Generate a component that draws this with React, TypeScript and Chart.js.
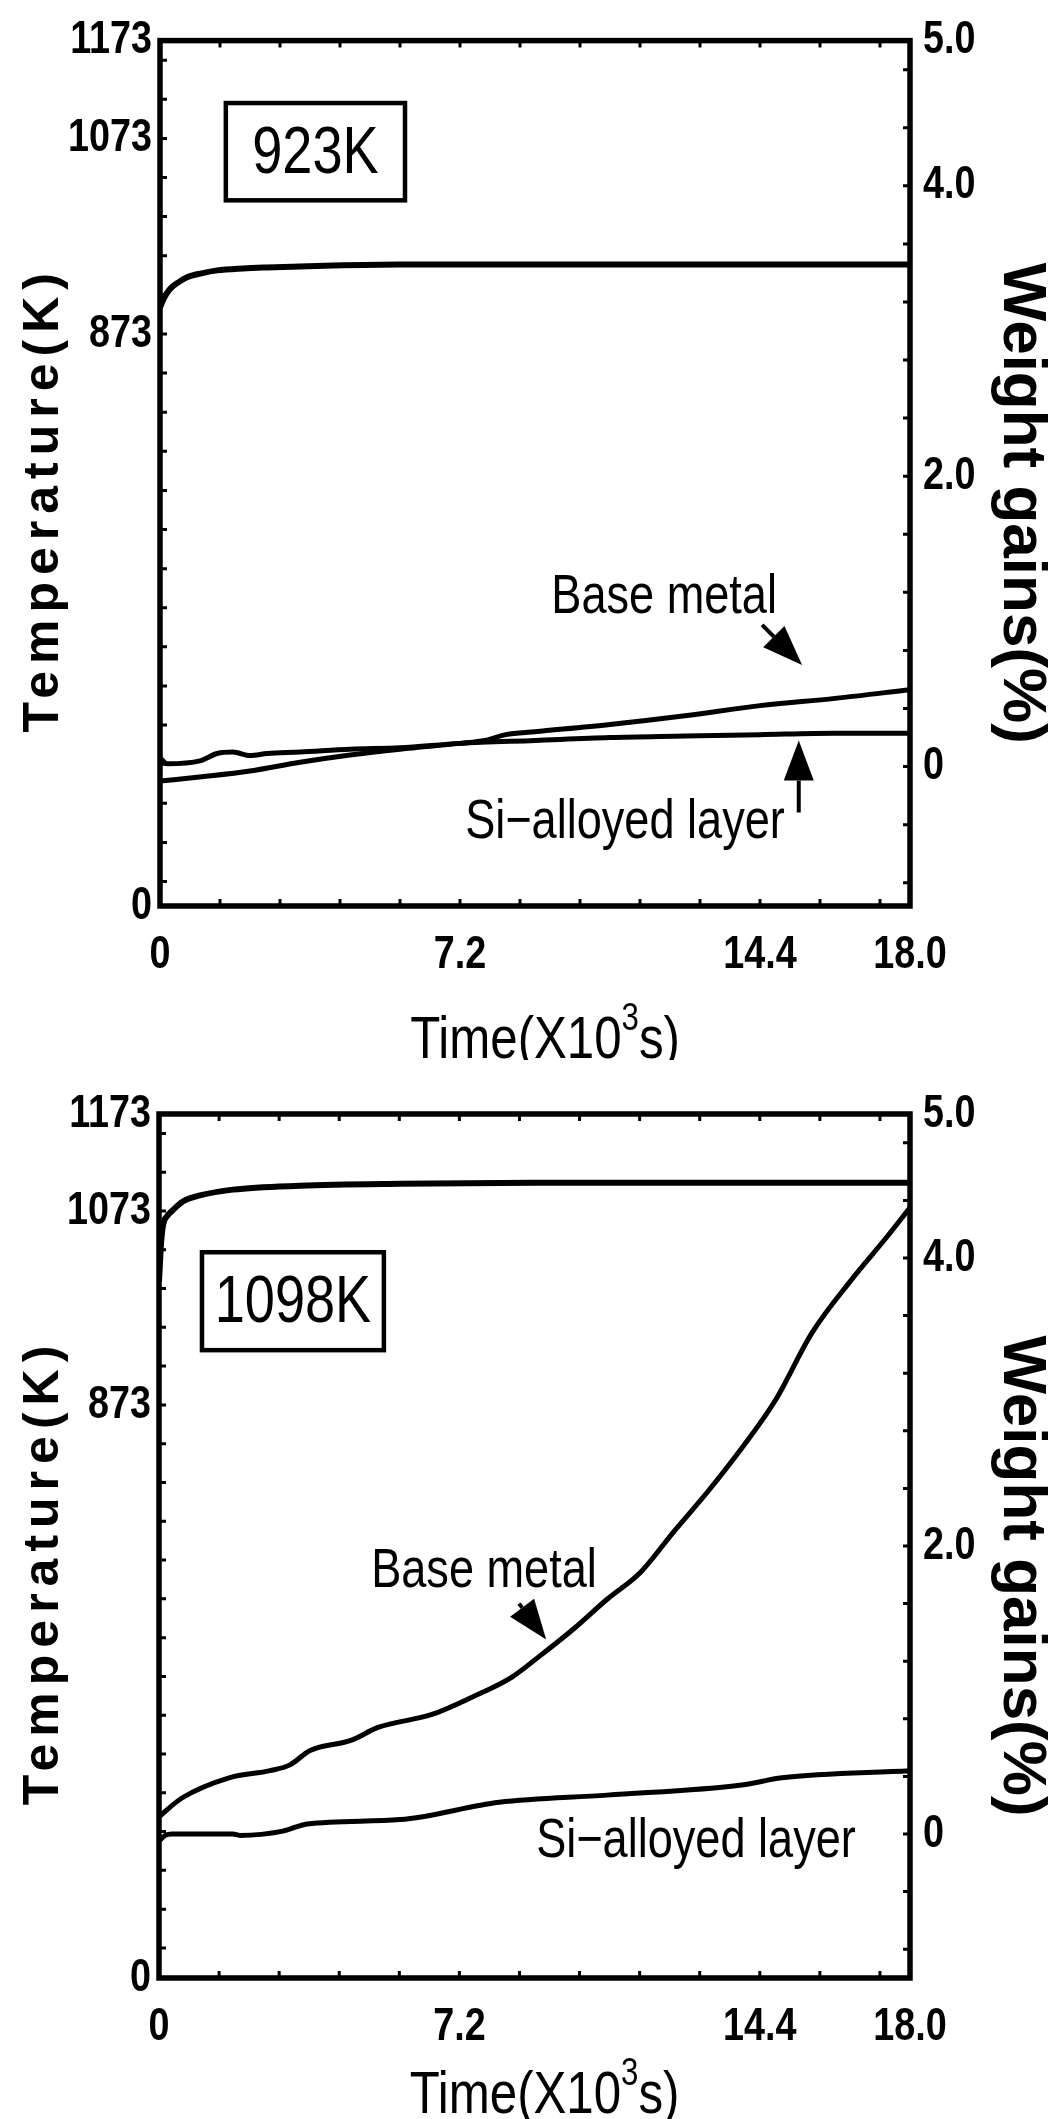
import React, { useEffect, useRef } from 'react';
import { Chart, registerables } from 'chart.js';

Chart.register(...registerables);

// ---------- axis ticks ----------
const TIME_TICKS = [0, 7.2, 14.4, 18];
const TIME_TICK_LABELS = ['0', '7.2', '14.4', '18.0'];
const TIME_MINOR_STEP = 1.44;
const TEMP_TICKS = [873, 1073, 1173];
const TEMP_TICK_LABELS = ['873', '1073', '1173'];
const TEMP_BREAK_LABEL = '0';
const TEMP_MINOR_STEP = 40;
const GAIN_TICKS = [0, 2, 4, 5];
const GAIN_TICK_LABELS = ['0', '2.0', '4.0', '5.0'];
const GAIN_MINOR_STEP = 0.4;

// ---------- panel 1 : 923K ----------
const T1_TIME = [0, 0.1, 0.24, 0.45, 0.65, 1.0, 1.37, 2.0, 2.57, 4.15, 5.76, 9.0, 12.6, 16.0, 18.0];
const T1_TEMP = [900, 910, 919, 926, 931, 935, 938, 940, 941, 943, 944, 944, 944, 944, 944];
const BM1_TIME = [0, 1.0, 2.16, 3.36, 4.56, 5.76, 7.2, 7.8, 8.3, 9.0, 10.8, 12.6, 14.4, 16.2, 18];
const BM1_GAIN = [-0.1, -0.07, -0.03, 0.03, 0.08, 0.12, 0.16, 0.18, 0.22, 0.24, 0.29, 0.35, 0.42, 0.47, 0.53];
const SI1_TIME = [0, 0.17, 0.96, 1.37, 1.75, 2.16, 2.57, 3.36, 4.56, 5.76, 7.2, 9.0, 10.8, 12.6, 14.4, 16.2, 18];
const SI1_GAIN = [0.06, 0.02, 0.04, 0.09, 0.1, 0.076, 0.09, 0.1, 0.12, 0.13, 0.16, 0.18, 0.2, 0.21, 0.22, 0.23, 0.23];

// ---------- panel 2 : 1098K ----------
const T2_TIME = [0, 0.05, 0.1, 0.2, 0.31, 0.58, 0.98, 1.77, 3.38, 5.78, 9, 14, 18];
const T2_TEMP = [1000, 1040, 1059, 1068, 1073, 1083, 1089, 1095, 1099, 1101, 1102, 1102, 1102];
const BM2_TIME = [0, 0.55, 1.68, 2.66, 3.14, 3.62, 4.6, 5.25, 6.54, 7.5, 8.46, 9.1, 9.92, 10.74, 11.55, 12.34, 13.16, 13.97, 14.77, 15.65, 16.6, 17.4, 18];
const BM2_GAIN = [0.12, 0.25, 0.39, 0.44, 0.48, 0.58, 0.65, 0.74, 0.83, 0.95, 1.09, 1.23, 1.42, 1.63, 1.82, 2.1, 2.38, 2.68, 3.01, 3.48, 3.85, 4.13, 4.35];
const SI2_TIME = [0, 0.15, 0.31, 1.77, 1.94, 2.97, 3.55, 5.78, 8.15, 10.74, 13.97, 14.93, 18];
const SI2_GAIN = [-0.05, -0.01, 0.0, 0.0, -0.01, 0.02, 0.07, 0.1, 0.22, 0.27, 0.34, 0.39, 0.44];

const W = 1052;
const SANS = '"Liberation Sans", Arial, sans-serif';
const CONDENSE = 0.82;

type Panel = {
  height: number; top: number; left: number; right: number; bottom: number;
  tempMin: number; gainMin: number; timeTitleY: number;
  temp: [number[], number[]]; base: [number[], number[]]; si: [number[], number[]];
  box: { t0: number; t1: number; w0: number; w1: number; text: string };
  labels: { text: string; t: number; w: number }[];
  arrows: { from: [number, number]; to: [number, number] }[];
};

const PANELS: Panel[] = [
  {
    height: 1060, top: 39, left: 160, right: 910, bottom: 906,
    tempMin: 288, gainMin: -0.96, timeTitleY: 1058,
    temp: [T1_TIME, T1_TEMP], base: [BM1_TIME, BM1_GAIN], si: [SI1_TIME, SI1_GAIN],
    box: { t0: 1.58, t1: 5.88, w0: 4.57, w1: 3.9, text: '923K' },
    labels: [
      { text: 'Base metal', t: 12.1, w: 1.16 },
      { text: 'Si\u2212alloyed layer', t: 11.16, w: -0.39 },
    ],
    arrows: [
      { from: [14.45, 0.976], to: [15.41, 0.7] },
      { from: [15.33, -0.316], to: [15.33, 0.179] },
    ],
  },
  {
    height: 1059, top: 54, left: 159, right: 910, bottom: 918,
    tempMin: 282, gainMin: -1.0, timeTitleY: 1053,
    temp: [T2_TIME, T2_TEMP], base: [BM2_TIME, BM2_GAIN], si: [SI2_TIME, SI2_GAIN],
    box: { t0: 1.03, t1: 5.39, w0: 4.04, w1: 3.36, text: '1098K' },
    labels: [
      { text: 'Base metal', t: 7.79, w: 1.82 },
      { text: 'Si\u2212alloyed layer', t: 12.87, w: -0.056 },
    ],
    arrows: [{ from: [8.63, 1.6], to: [9.28, 1.35] }],
  },
];

function pts(xs: number[], ys: number[]) {
  return xs.map((x, i) => ({ x, y: ys[i] }));
}

// draws text squeezed horizontally (condensed typeface look)
function narrowText(ctx: CanvasRenderingContext2D, text: string, x: number, y: number, sx = CONDENSE) {
  ctx.save();
  ctx.translate(x, y);
  ctx.scale(sx, 1);
  ctx.fillText(text, 0, 0);
  ctx.restore();
}

// Chart.js axis labels are drawn condensed too
const condensePlugin = {
  id: 'condense',
  beforeDraw(chart: any) {
    const ctx = chart.ctx as any;
    const orig = CanvasRenderingContext2D.prototype.fillText;
    ctx.fillText = function (text: string, x: number, y: number) {
      this.save();
      this.translate(x, y);
      this.scale(CONDENSE, 1);
      orig.call(this, text, 0, 0);
      this.restore();
    };
  },
  beforeDatasetsDraw(chart: any) {
    delete (chart.ctx as any).fillText;
  },
  afterDraw(chart: any) {
    delete (chart.ctx as any).fillText;
  },
};

function makeOverlay(p: Panel) {
  return {
    id: 'overlay',
    afterDraw(chart: any) {
      const { ctx, chartArea: a, scales } = chart;
      const x = scales.x, yT = scales.yT, yW = scales.yW;
      ctx.save();
      ctx.strokeStyle = '#000';
      ctx.fillStyle = '#000';
      // minor ticks (inward)
      ctx.lineWidth = 3;
      ctx.beginPath();
      for (let v = 0; v <= 18 + 1e-9; v += TIME_MINOR_STEP) {
        const px = x.getPixelForValue(v);
        ctx.moveTo(px, a.bottom); ctx.lineTo(px, a.bottom - 7);
        ctx.moveTo(px, a.top); ctx.lineTo(px, a.top + 7);
      }
      for (let v = 873; v < 1173; v += TEMP_MINOR_STEP) {
        const py = yT.getPixelForValue(v);
        ctx.moveTo(a.left, py); ctx.lineTo(a.left + 7, py);
      }
      for (let v = 873 - TEMP_MINOR_STEP; v > p.tempMin; v -= TEMP_MINOR_STEP) {
        const py = yT.getPixelForValue(v);
        ctx.moveTo(a.left, py); ctx.lineTo(a.left + 7, py);
      }
      for (let v = -0.8; v < 5; v += GAIN_MINOR_STEP) {
        const py = yW.getPixelForValue(v);
        ctx.moveTo(a.right, py); ctx.lineTo(a.right - 7, py);
      }
      ctx.stroke();
      // frame
      ctx.lineWidth = 5.5;
      ctx.strokeRect(a.left, a.top, a.right - a.left, a.bottom - a.top);

      // temperature box label
      const bx0 = x.getPixelForValue(p.box.t0), bx1 = x.getPixelForValue(p.box.t1);
      const by0 = yW.getPixelForValue(p.box.w0), by1 = yW.getPixelForValue(p.box.w1);
      ctx.lineWidth = 4.5;
      ctx.strokeRect(bx0, by0, bx1 - bx0, by1 - by0);
      ctx.font = `66px ${SANS}`;
      ctx.textAlign = 'center';
      ctx.textBaseline = 'middle';
      narrowText(ctx, p.box.text, (bx0 + bx1) / 2, (by0 + by1) / 2 + 3);

      // curve labels
      ctx.font = `55px ${SANS}`;
      for (const l of p.labels) {
        narrowText(ctx, l.text, x.getPixelForValue(l.t), yW.getPixelForValue(l.w));
      }
      // arrows
      for (const ar of p.arrows) {
        const x0 = x.getPixelForValue(ar.from[0]), y0 = yW.getPixelForValue(ar.from[1]);
        const x1 = x.getPixelForValue(ar.to[0]), y1 = yW.getPixelForValue(ar.to[1]);
        const ang = Math.atan2(y1 - y0, x1 - x0);
        const hl = 40, hw = 15;
        const bxp = x1 - hl * Math.cos(ang), byp = y1 - hl * Math.sin(ang);
        ctx.lineWidth = 4;
        ctx.beginPath(); ctx.moveTo(x0, y0); ctx.lineTo(bxp, byp); ctx.stroke();
        ctx.beginPath();
        ctx.moveTo(x1, y1);
        ctx.lineTo(bxp + hw * Math.sin(ang), byp - hw * Math.cos(ang));
        ctx.lineTo(bxp - hw * Math.sin(ang), byp + hw * Math.cos(ang));
        ctx.closePath(); ctx.fill();
      }

      // axis titles
      const cy = (a.top + a.bottom) / 2 + 30;
      ctx.textBaseline = 'alphabetic';
      ctx.textAlign = 'center';
      ctx.save();
      ctx.translate(58, cy);
      ctx.rotate(-Math.PI / 2);
      ctx.font = `bold 50px ${SANS}`;
      (ctx as any).letterSpacing = '7px';
      ctx.fillText('Temperature(K)', 4, 0);
      ctx.restore();

      ctx.save();
      ctx.translate(W - 48, cy);
      ctx.rotate(Math.PI / 2);
      ctx.font = `bold 62px ${SANS}`;
      ctx.fillText('Weight gains(%)', 0, 0);
      ctx.restore();

      // Time(X10^3 s) with raised exponent
      const parts = [
        { t: 'Time(X10', size: 60, dy: 0 },
        { t: '3', size: 38, dy: -28 },
        { t: 's)', size: 60, dy: 0 },
      ];
      let total = 0;
      for (const pt of parts) {
        ctx.font = `${pt.size}px ${SANS}`;
        total += ctx.measureText(pt.t).width * CONDENSE;
      }
      let cx = (a.left + a.right) / 2 + 10 - total / 2;
      ctx.textAlign = 'left';
      for (const pt of parts) {
        ctx.font = `${pt.size}px ${SANS}`;
        narrowText(ctx, pt.t, cx, p.timeTitleY + pt.dy);
        cx += ctx.measureText(pt.t).width * CONDENSE;
      }
      ctx.restore();
    },
  };
}

function PanelChart({ p }: { p: Panel }) {
  const ref = useRef<HTMLCanvasElement | null>(null);
  useEffect(() => {
    if (!ref.current) return;
    const tickFont = { family: SANS, size: 46, weight: 'bold' as const };
    const tempTickVals = [p.tempMin, ...TEMP_TICKS];
    const tempTickLabels = [TEMP_BREAK_LABEL, ...TEMP_TICK_LABELS];
    const chart = new Chart(ref.current, {
      type: 'line',
      data: {
        datasets: [
          { label: 'Temperature', data: pts(p.temp[0], p.temp[1]), yAxisID: 'yT', borderColor: '#000', borderWidth: 6, pointRadius: 0, cubicInterpolationMode: 'monotone', fill: false },
          { label: 'Base metal', data: pts(p.base[0], p.base[1]), yAxisID: 'yW', borderColor: '#000', borderWidth: 5, pointRadius: 0, cubicInterpolationMode: 'monotone', fill: false },
          { label: 'Si-alloyed layer', data: pts(p.si[0], p.si[1]), yAxisID: 'yW', borderColor: '#000', borderWidth: 5, pointRadius: 0, cubicInterpolationMode: 'monotone', fill: false },
        ],
      },
      options: {
        responsive: false,
        animation: false,
        devicePixelRatio: 1,
        layout: { padding: { top: p.top, left: 0, right: 0, bottom: 0 } },
        plugins: { legend: { display: false }, tooltip: { enabled: false } },
        scales: {
          x: {
            type: 'linear', position: 'bottom', min: 0, max: 18,
            afterBuildTicks: (s: any) => { s.ticks = TIME_TICKS.map((v) => ({ value: v })); },
            afterFit: (s: any) => { s.height = p.height - p.bottom; },
            ticks: { callback: (_v: any, i: number) => TIME_TICK_LABELS[i], font: tickFont, color: '#000', padding: 22, autoSkip: false, maxRotation: 0 },
            grid: { display: false, drawTicks: false },
            border: { display: false },
          },
          yT: {
            type: 'linear', position: 'left', min: p.tempMin, max: 1173,
            afterBuildTicks: (s: any) => { s.ticks = tempTickVals.map((v) => ({ value: v })); },
            afterFit: (s: any) => { s.width = p.left; },
            ticks: { callback: (_v: any, i: number) => tempTickLabels[i], font: tickFont, color: '#000', padding: 8, autoSkip: false },
            grid: { display: false, drawTicks: false },
            border: { display: false },
          },
          yW: {
            type: 'linear', position: 'right', min: p.gainMin, max: 5,
            afterBuildTicks: (s: any) => { s.ticks = GAIN_TICKS.map((v) => ({ value: v })); },
            afterFit: (s: any) => { s.width = W - p.right; },
            ticks: { callback: (_v: any, i: number) => GAIN_TICK_LABELS[i], font: tickFont, color: '#000', padding: 13, autoSkip: false },
            grid: { display: false, drawTicks: false },
            border: { display: false },
          },
        },
      },
      plugins: [condensePlugin, makeOverlay(p)],
    } as any);
    return () => chart.destroy();
  }, [p]);
  return <canvas ref={ref} width={W} height={p.height} style={{ display: 'block', width: W, height: p.height }} />;
}

export default function App() {
  return (
    <div style={{ position: 'absolute', left: 0, top: 0, width: W, height: 2119, background: '#fff' }}>
      {PANELS.map((p, i) => (
        <PanelChart key={i} p={p} />
      ))}
    </div>
  );
}
